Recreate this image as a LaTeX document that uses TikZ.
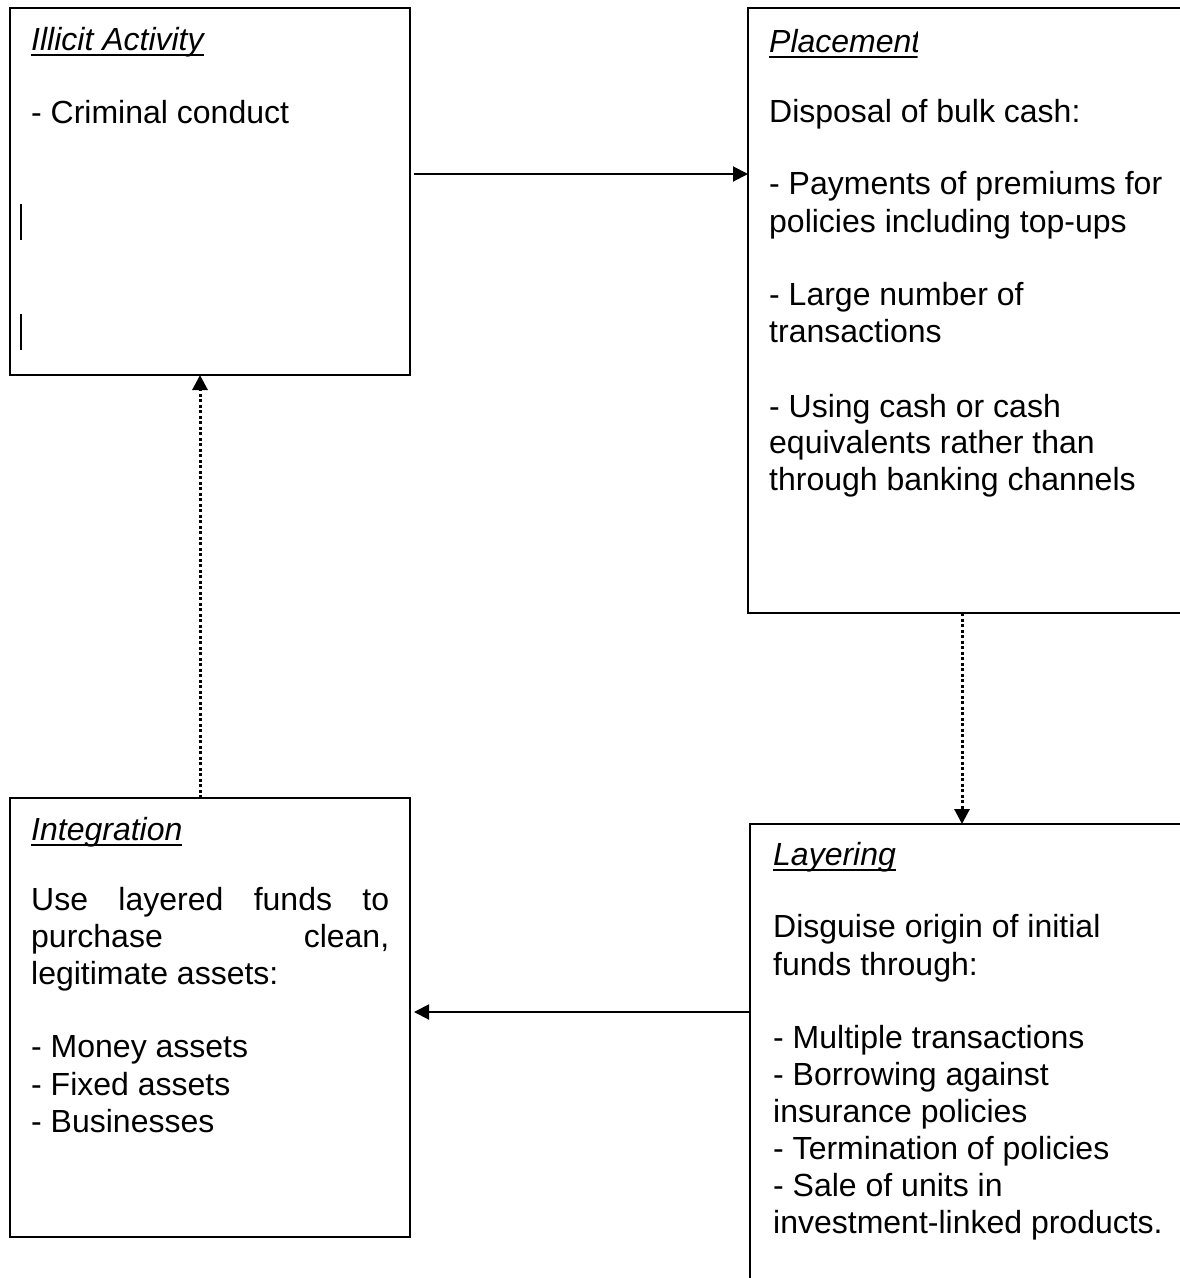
\documentclass[tikz,border=0pt]{standalone}
\usepackage{fontspec}
\setmainfont{Liberation Sans}
\usetikzlibrary{arrows.meta}

% italic heading with a flat underline at a fixed depth
\newcommand\headul[1]{\setbox0\hbox{\itshape #1}\rlap{\rule[-5.5pt]{\wd0}{2pt}}\box0}

\tikzset{
  stage/.style={draw, line width=2pt, inner sep=0pt, outer sep=0pt, anchor=north west},
  txt/.style={anchor=base west, inner sep=0pt, font=\fontsize{32}{38}\selectfont},
  flow/.style={line width=2pt, -{Triangle[length=15pt,width=15pt]}},
  dotflow/.style={line width=3pt, dash pattern=on 3pt off 2.5pt, -{Triangle[length=15pt,width=15pt]}},
  caret/.style={line width=1.2pt}
}

\begin{document}
\begin{tikzpicture}[x=1pt, y=-1pt]
\useasboundingbox (0,0) rectangle (1180,1278);

% the four stages
\node[stage, minimum width=400pt, minimum height=367pt] (illicit) at (10,8) {};
\node[stage, minimum width=440pt, minimum height=605pt] (placement) at (748,8) {};
\node[stage, minimum width=440pt, minimum height=470pt] (layering) at (750,824) {};
\node[stage, minimum width=400pt, minimum height=439pt] (integration) at (10,798) {};

% Illicit Activity
\node[txt] (ia0) at (31,50) {\headul{Illicit Activity}};
\node[txt] (ia1) at (31,123) {- Criminal conduct};
\coordinate (c1a) at (21,204); \coordinate (c1b) at (21,240);
\coordinate (c2a) at (21,314); \coordinate (c2b) at (21,350);
\draw[caret] (c1a) -- (c1b);
\draw[caret] (c2a) -- (c2b);

% Placement (heading cut off at its last letter)
\begin{scope}
  \clip (760,0) rectangle (917.5,80);
  \node[txt] (pl0) at (769,52) {\headul{Placement}};
\end{scope}
\node[txt] (pl1) at (769,122) {Disposal of bulk cash:};
\node[txt] (pl2) at (769,194) {- Payments of premiums for};
\node[txt] (pl3) at (769,232) {policies including top-ups};
\node[txt] (pl4) at (769,305) {- Large number of};
\node[txt] (pl5) at (769,342) {transactions};
\node[txt] (pl6) at (769,417) {- Using cash or cash};
\node[txt] (pl7) at (769,453) {equivalents rather than};
\node[txt] (pl8) at (769,490) {through banking channels};

% Layering
\node[txt] (la0) at (773,865) {\headul{Layering}};
\node[txt] (la1) at (773,937) {Disguise origin of initial};
\node[txt] (la2) at (773,975) {funds through:};
\node[txt] (la3) at (773,1048) {- Multiple transactions};
\node[txt] (la4) at (773,1085) {- Borrowing against};
\node[txt] (la5) at (773,1122) {insurance policies};
\node[txt] (la6) at (773,1159) {- Termination of policies};
\node[txt] (la7) at (773,1196) {- Sale of units in};
\node[txt] (la8) at (773,1233) {investment-linked products.};

% Integration
\node[txt] (in0) at (31,840) {\headul{Integration}};
\node[txt] (in1) at (31,910) {\makebox[358pt][s]{Use layered funds to}};
\node[txt] (in2) at (31,947) {\makebox[358pt][s]{purchase clean,}};
\node[txt] (in3) at (31,984) {legitimate assets:};
\node[txt] (in4) at (31,1057) {- Money assets};
\node[txt] (in5) at (31,1095) {- Fixed assets};
\node[txt] (in6) at (31,1132) {- Businesses};

% connectors
\coordinate (r1) at (0,174);
\coordinate (r2) at (962,0);
\coordinate (r3) at (0,1012);
\coordinate (r4) at (200,0);
\draw[flow] ([xshift=4pt]illicit.east |- r1) -- (placement.west |- r1);
\draw[dotflow] (placement.south -| r2) -- (layering.north -| r2);
\draw[flow] (layering.west |- r3) -- ([xshift=4pt]integration.east |- r3);
\draw[dotflow] (integration.north -| r4) -- (illicit.south -| r4);
\end{tikzpicture}
\end{document}
